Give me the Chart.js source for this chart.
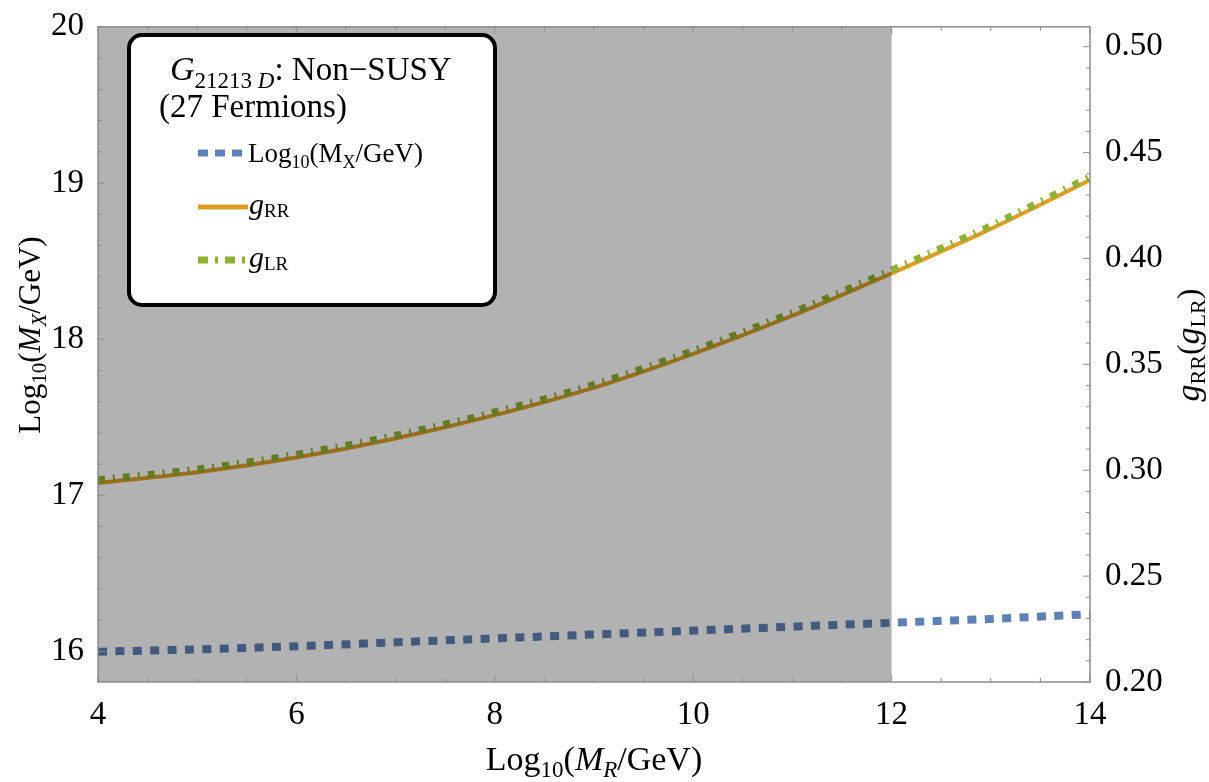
<!DOCTYPE html>
<html lang="en">
<head>
<meta charset="UTF-8">
<title>G21213D Non-SUSY (27 Fermions)</title>
<script src="https://cdn.jsdelivr.net/npm/chart.js"></script>
<style>
  html, body { margin: 0; padding: 0; background: #fff; }
</style>
</head>
<body>
<canvas id="c" width="1209" height="782"></canvas>
<script>
// values
const logMR = [4, 5, 6, 7, 8, 9, 10, 11, 12, 13, 14];
const logMX = [16.00, 16.015, 16.035, 16.06, 16.085, 16.11, 16.135, 16.16, 16.185, 16.21, 16.24];
const gRR = [0.294, 0.299, 0.306, 0.315, 0.326, 0.339, 0.355, 0.373, 0.393, 0.414, 0.437];
const gLR = [0.2955, 0.3005, 0.3075, 0.3165, 0.3275, 0.3405, 0.3565, 0.3745, 0.3945, 0.4155, 0.4385];

const xTicks = [4, 6, 8, 10, 12, 14];
const yTicks = [16, 17, 18, 19, 20];
const y1Ticks = [0.20, 0.25, 0.30, 0.35, 0.40, 0.45, 0.50];
const shadeFrom = 4, shadeTo = 12;

const SERIF = "'Liberation Serif', 'Times New Roman', serif";
const BLUE = '#5E81B5', ORANGE = '#E19C24', GREEN = '#8FB032';

// draws a run of text pieces: [text, size, italic, dy]
function richWidth(ctx, parts) {
  let w = 0;
  for (const [t, size, it] of parts) {
    ctx.font = (it ? 'italic ' : '') + size + 'px ' + SERIF;
    w += ctx.measureText(t).width;
  }
  return w;
}
function rich(ctx, parts, x, y) {
  let cx = x;
  for (const [t, size, it, dy] of parts) {
    ctx.font = (it ? 'italic ' : '') + size + 'px ' + SERIF;
    ctx.fillText(t, cx, y + (dy || 0));
    cx += ctx.measureText(t).width;
  }
}

function pts(ys) { return logMR.map((x, i) => ({ x: x, y: ys[i] })); }

const framePlugin = {
  id: 'frame',
  afterDatasetsDraw(chart) {
    const { ctx, chartArea: a, scales } = chart;
    const x = scales.x, y = scales.y, y1 = scales.y1;
    ctx.save();
    // grey band over 4..12, drawn on top so lines darken under it
    const x0 = x.getPixelForValue(shadeFrom), x1 = x.getPixelForValue(shadeTo);
    ctx.fillStyle = 'rgba(0,0,0,0.3)';
    ctx.fillRect(x0, a.top, x1 - x0, a.bottom - a.top);

    ctx.strokeStyle = '#8c8c8c';
    ctx.lineWidth = 1.5;
    ctx.strokeRect(a.left, a.top, a.right - a.left, a.bottom - a.top);

    ctx.lineWidth = 1;
    ctx.beginPath();
    for (let v = 4; v <= 14.0001; v += 0.5) {
      const p = x.getPixelForValue(v);
      const L = Math.abs(v / 2 - Math.round(v / 2)) < 1e-6 ? 7 : 4;
      ctx.moveTo(p, a.bottom); ctx.lineTo(p, a.bottom - L);
      ctx.moveTo(p, a.top); ctx.lineTo(p, a.top + L);
    }
    for (let i = 0; i <= 21; i++) {
      const v = 15.8 + i * 0.2;
      if (v < y.min || v > y.max) continue;
      const p = y.getPixelForValue(v);
      const L = Math.abs(v - Math.round(v)) < 1e-6 ? 7 : 4;
      ctx.moveTo(a.left, p); ctx.lineTo(a.left + L, p);
    }
    for (let i = 0; i <= 31; i++) {
      const v = 0.20 + i * 0.01;
      if (v > y1.max) continue;
      const p = y1.getPixelForValue(v);
      const L = i % 5 === 0 ? 7 : 4;
      ctx.moveTo(a.right, p); ctx.lineTo(a.right - L, p);
    }
    ctx.stroke();
    ctx.restore();
  },
  afterDraw(chart) {
    const ctx = chart.ctx;
    const a = chart.chartArea;
    ctx.save();
    ctx.fillStyle = '#000';
    ctx.textBaseline = 'alphabetic';

    // x title
    const xt = [['Log', 34], ['10', 23, false, 7], ['(', 34], ['M', 34, true], ['R', 23, true, 7], ['/GeV)', 34]];
    rich(ctx, xt, (a.left + a.right) / 2 - richWidth(ctx, xt) / 2, 770);

    // left y title
    const yt = [['Log', 31], ['10', 21, false, 6], ['(', 31], ['M', 31, true], ['X', 21, true, 6], ['/GeV)', 31]];
    ctx.save();
    ctx.translate(40, 335);
    ctx.rotate(-Math.PI / 2);
    rich(ctx, yt, -richWidth(ctx, yt) / 2, 0);
    ctx.restore();

    // right y title
    const rt = [['g', 34, true], ['RR', 22, false, 6], ['(', 32], ['g', 34, true], ['LR', 22, false, 6], [')', 32]];
    ctx.save();
    ctx.translate(1199, 345);
    ctx.rotate(-Math.PI / 2);
    rich(ctx, rt, -richWidth(ctx, rt) / 2, 0);
    ctx.restore();

    // legend box
    ctx.beginPath();
    ctx.roundRect(129, 35, 366, 270, 13);
    ctx.fillStyle = '#fff';
    ctx.fill();
    ctx.lineWidth = 4;
    ctx.strokeStyle = '#000';
    ctx.stroke();

    ctx.fillStyle = '#000';
    rich(ctx, [['G', 34, true], ['21213', 23, false, 8], [' D', 23, true, 8], [': Non\u2212SUSY', 33]], 170, 80);
    rich(ctx, [['(27 Fermions)', 33]], 159, 117);

    const sample = (y, color, dash) => {
      ctx.beginPath();
      ctx.setLineDash(dash);
      ctx.lineCap = 'butt';
      ctx.strokeStyle = color;
      ctx.lineWidth = color === ORANGE ? 5 : 7;
      ctx.moveTo(198, y); ctx.lineTo(248, y);
      ctx.stroke();
      ctx.setLineDash([]);
    };
    sample(153, BLUE, [10, 7]);
    sample(207, ORANGE, []);
    sample(260, GREEN, [10, 7, 3, 7]);
    ctx.fillStyle = '#000';
    rich(ctx, [['Log', 27], ['10', 18, false, 6], ['(M', 27], ['X', 18, false, 6], ['/GeV)', 27]], 248, 162);
    rich(ctx, [['g', 30, true], ['RR', 19, false, 3]], 249, 214);
    rich(ctx, [['g', 30, true], ['LR', 19, false, 3]], 249, 267);
    ctx.restore();
  }
};

const tickFont = { family: SERIF, size: 33 };

new Chart(document.getElementById('c').getContext('2d'), {
  type: 'line',
  data: {
    datasets: [
      {
        label: 'gLR', data: pts(gLR), yAxisID: 'y1',
        borderColor: GREEN, borderWidth: 7, borderDash: [7, 8, 2, 8], borderCapStyle: 'butt',
        pointRadius: 0, cubicInterpolationMode: 'monotone', order: 0
      },
      {
        label: 'gRR', data: pts(gRR), yAxisID: 'y1',
        borderColor: ORANGE, borderWidth: 4,
        pointRadius: 0, cubicInterpolationMode: 'monotone', order: 1
      },
      {
        label: 'Log10(MX/GeV)', data: pts(logMX), yAxisID: 'y',
        borderColor: BLUE, borderWidth: 8, borderDash: [9, 8.4], borderCapStyle: 'butt',
        pointRadius: 0, cubicInterpolationMode: 'monotone', order: 2
      }
    ]
  },
  options: {
    responsive: false,
    animation: false,
    events: [],
    layout: { padding: { top: 22, left: 0, right: 0, bottom: 0 } },
    plugins: { legend: { display: false }, tooltip: { enabled: false } },
    scales: {
      x: {
        type: 'linear', min: 4, max: 14,
        grid: { display: false }, border: { display: false },
        afterBuildTicks: s => { s.ticks = xTicks.map(v => ({ value: v })); },
        afterFit: s => { s.height = 100; },
        ticks: { font: tickFont, color: '#000', padding: 6, maxRotation: 0 }
      },
      y: {
        type: 'linear', position: 'left', min: 15.806, max: 20.0,
        grid: { display: false }, border: { display: false },
        afterBuildTicks: s => { s.ticks = yTicks.map(v => ({ value: v })); },
        afterFit: s => { s.width = 98; },
        ticks: { font: tickFont, color: '#000', padding: 6 }
      },
      y1: {
        type: 'linear', position: 'right', min: 0.20, max: 0.5094,
        grid: { display: false }, border: { display: false },
        afterBuildTicks: s => { s.ticks = y1Ticks.map(v => ({ value: v })); },
        afterFit: s => { s.width = 119; },
        ticks: { font: tickFont, color: '#000', padding: 7, callback: v => v.toFixed(2) }
      }
    }
  },
  plugins: [framePlugin]
});
</script>
</body>
</html>
